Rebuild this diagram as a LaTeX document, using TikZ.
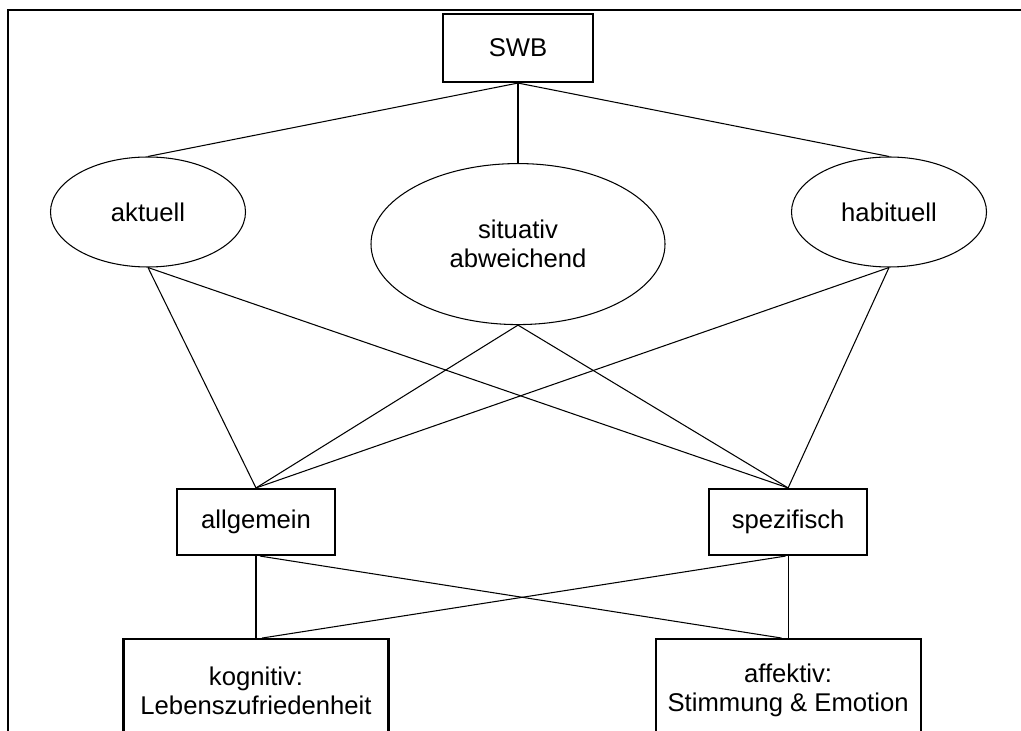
\documentclass[tikz,border=0pt]{standalone}
\usepackage{fontspec}
\setmainfont{Liberation Sans}
\usepackage{tikz}
\usetikzlibrary{positioning, shapes.geometric}

\begin{document}
\begin{tikzpicture}[
    node distance=1.6cm and 7.44cm,
    every node/.style={font=\fontsize{14.6}{16.5}\selectfont},
    box/.style={draw, line width=1.2pt, align=center, minimum width=3.16cm, minimum height=1.32cm},
    widebox/.style={box, minimum width=5.3cm, minimum height=2.05cm},
    blob/.style={draw, ellipse, line width=0.6pt, align=center, minimum width=3.9cm, minimum height=2.2cm},
    link/.style={line width=0.6pt}
]
    \path[use as bounding box, clip] (0,0) rectangle (20.42,-14.62);
    \draw[line width=1.2pt] (0.16,-15) -- (0.16,-0.2) -- (21,-0.2);

    \node[box, minimum width=3.0cm, minimum height=1.36cm] (swb) at (10.36,-0.96) {SWB};
    \node[blob, minimum width=5.88cm, minimum height=3.22cm, below=1.6cm of swb] (situativ) {situativ\\abweichend};
    \node[blob] (aktuell) at (2.96,-4.24) {aktuell};
    \node[blob] (habituell) at (17.78,-4.24) {habituell};

    \node[box] (allgemein) at (5.12,-10.44) {allgemein};
    \node[box, right=of allgemein] (spezifisch) {spezifisch};
    \node[widebox, below=1.64cm of allgemein] (kognitiv) {kognitiv:\\Lebenszufriedenheit};
    \node[widebox, below=1.64cm of spezifisch] (affektiv) {affektiv:\\Stimmung \& Emotion};

    \draw[link] (swb.south) -- (aktuell.north);
    \draw[link] (swb.south) -- (situativ.north);
    \draw[link] (swb.south) -- (habituell.north);

    \draw[link] (aktuell.south) -- (allgemein.north);
    \draw[link] (aktuell.south) -- (spezifisch.north);
    \draw[link] (situativ.south) -- (allgemein.north);
    \draw[link] (situativ.south) -- (spezifisch.north);
    \draw[link] (habituell.south) -- (allgemein.north);
    \draw[link] (habituell.south) -- (spezifisch.north);

    \draw[link] (allgemein.south) -- (kognitiv.north);
    \draw[link] ([xshift=0.08cm]allgemein.south) -- ([xshift=-0.13cm]affektiv.north);
    \draw[link] (spezifisch.south) -- (affektiv.north);
    \draw[link] ([xshift=-0.05cm]spezifisch.south) -- ([xshift=0.12cm]kognitiv.north);
\end{tikzpicture}
\end{document}
